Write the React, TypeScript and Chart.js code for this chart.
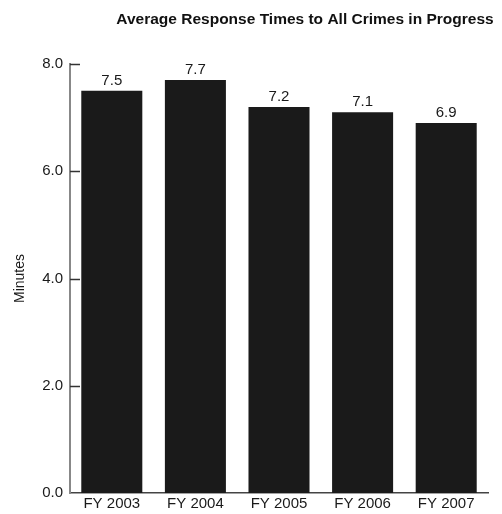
import React, { useEffect, useRef } from "react";
import { Chart, registerables } from "chart.js";

Chart.register(...registerables);

const categories = ["FY 2003", "FY 2004", "FY 2005", "FY 2006", "FY 2007"];
const responseTimes = [7.5, 7.7, 7.2, 7.1, 6.9];
const titleText = "Average Response Times to All Crimes in Progress";
const yAxisTitle = "Minutes";

const FONT = "'Liberation Sans', Arial, sans-serif";

export default function App() {
  const ref = useRef<HTMLCanvasElement | null>(null);
  useEffect(() => {
    document.body.style.margin = "0";
    const canvas = ref.current!;
    const extras = {
      id: "extras",
      afterDatasetsDraw(chart: any) {
        const ctx = chart.ctx;
        const area = chart.chartArea;
        const y = chart.scales.y;
        ctx.save();
        // inward tick marks
        ctx.strokeStyle = "#333";
        ctx.lineWidth = 1.5;
        y.ticks.forEach((t: any) => {
          const py = Math.round(y.getPixelForValue(t.value)) + 0.5;
          if (t.value === 0) return;
          ctx.beginPath();
          ctx.moveTo(area.left, py);
          ctx.lineTo(area.left + 10, py);
          ctx.stroke();
        });
        // value labels
        ctx.fillStyle = "#1a1a1a";
        ctx.font = `15px ${FONT}`;
        ctx.textAlign = "center";
        ctx.textBaseline = "alphabetic";
        const meta = chart.getDatasetMeta(0);
        meta.data.forEach((bar: any, i: number) => {
          ctx.fillText(responseTimes[i].toFixed(1), bar.x, bar.y - 6);
        });
        // title
        ctx.font = `bold 15.5px ${FONT}`;
        ctx.fillStyle = "#111";
        ctx.textBaseline = "middle";
        ctx.textAlign = "center";
        ctx.fillText(titleText, 305, 20);
        ctx.restore();
      },
    };
    const chart = new Chart(canvas, {
      type: "bar",
      data: {
        labels: categories,
        datasets: [
          {
            data: responseTimes,
            backgroundColor: "#1a1a1a",
            borderWidth: 0,
            barPercentage: 0.73,
            categoryPercentage: 1,
          },
        ],
      },
      options: {
        responsive: false,
        animation: false,
        layout: { padding: { top: 64, right: 14, left: 0, bottom: 0 } },
        plugins: {
          legend: { display: false },
          title: { display: false },
          tooltip: { enabled: false },
        },
        scales: {
          x: {
            grid: { display: false, drawTicks: false },
            border: { display: true, color: "#444", width: 1.5 },
            ticks: { color: "#1a1a1a", font: { family: FONT, size: 15 }, padding: 2, maxRotation: 0 },
            afterFit(scale: any) {
              scale.height = 21;
            },
          },
          y: {
            min: 0,
            max: 8,
            grid: { display: false, drawTicks: false },
            border: { display: true, color: "#888", width: 2 },
            ticks: {
              stepSize: 2,
              color: "#1a1a1a",
              font: { family: FONT, size: 15 },
              padding: 7,
              callback: (v: any) => Number(v).toFixed(1),
            },
            title: {
              display: true,
              text: yAxisTitle,
              color: "#1a1a1a",
              font: { family: FONT, size: 14 },
              padding: { top: 12, bottom: 0 },
            },
            afterFit(scale: any) {
              scale.width = 70;
            },
          },
        },
      },
      plugins: [extras],
    });
    return () => chart.destroy();
  }, []);
  return <canvas ref={ref} width={502} height={514} style={{ display: "block" }} />;
}
